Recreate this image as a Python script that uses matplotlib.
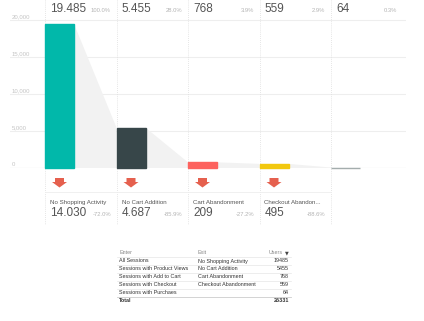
import matplotlib
matplotlib.use("Agg")
import matplotlib.pyplot as plt
from matplotlib.transforms import blended_transform_factory, offset_copy
from matplotlib.patches import Polygon

# data
stages = ["All Sessions", "Sessions with Product...", "Sessions with Add to...",
          "Sessions with Check...", "Sessions with Purch..."]
users = [19485, 5455, 768, 559, 64]
top_pct = ["100.0%", "28.0%", "3.9%", "2.9%", "0.3%"]
exits = ["No Shopping Activity", "No Cart Addition", "Cart Abandonment", "Checkout Abandon..."]
exit_users = [14030, 4687, 209, 495]
exit_pct = ["-72.0%", "-85.9%", "-27.2%", "-88.6%"]
yticks = [0, 5000, 10000, 15000, 20000]
colors = ["#01b8aa", "#374649", "#fd625e", "#f2c80f", "#a4adad"]

# table under the chart
tab_enter = ["All Sessions", "Sessions with Product Views", "Sessions with Add to Cart",
             "Sessions with Checkout", "Sessions with Purchaes"]
tab_exit = ["No Shopping Activity", "No Cart Addition", "Cart Abandonment",
            "Checkout Abandonment", ""]
tab_users = [19485, 5455, 768, 559, 64]
tab_total = 26331

plt.rcParams['font.family'] = ['Liberation Sans', 'DejaVu Sans']

W, H = 424, 321
CW = 71.5  # column width in px
fig = plt.figure(figsize=(W / 100, H / 100), dpi=100)

def fy(p):
    return 1 - p / H

ax = fig.add_axes([10 / W, fy(168), 396 / W, 168 / H])
ax.set_xlim(-35 / CW, 361 / CW)
ax.set_ylim(0, 168 / 37 * 5000)
for s in ax.spines.values():
    s.set_visible(False)
ax.set_xticks([])
ax.set_yticks(yticks)
ax.set_yticklabels([])
ax.tick_params(left=False)
ax.yaxis.grid(True, color="#eeeeee", lw=0.8)
ax.set_axisbelow(True)
ax.axhline(0, color="#e2e2e2", lw=0.8, zorder=1)

lab_tr = offset_copy(ax.transData, fig=fig, y=3.5, units='dots')
for v in yticks:
    ax.text(-33 / CW, v, f"{v:,}", transform=lab_tr, fontsize=4.3, color="#c4c4c4",
            ha="left", va="center")

bw = 29 / CW
xs = list(range(len(users)))
ax.bar(xs, users, width=bw, align="edge", color=colors, edgecolor=colors,
       linewidth=1.0, zorder=3, clip_on=False)

# funnel shading between bars
for i in range(len(users) - 1):
    poly = Polygon([(i + bw, users[i]), (i + 1, users[i + 1]), (i + 1, 0), (i + bw, 0)],
                   closed=True, facecolor="#f2f2f2", edgecolor="none", zorder=2)
    ax.add_patch(poly)

tr = blended_transform_factory(ax.transData, fig.transFigure)

# column separators
for i in xs:
    ax.plot([i, i], [1, fy(225)], transform=tr, clip_on=False, ls=(0, (1, 1.5)),
            color="#dddddd", lw=0.6)
ax.plot([0, 4], [fy(192), fy(192)], transform=tr, clip_on=False, color="#eeeeee", lw=0.6)

# top row: stage header (cut by the top edge), value and share
for i in xs:
    ax.text(i + 5 / CW, fy(-2.5), stages[i], transform=tr, fontsize=4.4, color="#999999",
            ha="left", va="center", clip_on=False)
    ax.text(i + 5 / CW, fy(8.5), f"{users[i]:,}".replace(",", "."), transform=tr,
            fontsize=8.5, color="#555555", ha="left", va="center")
    ax.text(i + 66 / CW, fy(10), top_pct[i], transform=tr, fontsize=4.2,
            color="#b4b4b4", ha="right", va="center")

# exit boxes
for i in range(len(exits)):
    c = i + 0.5 * bw
    ax.add_patch(Polygon([(c - 4.5 / CW, fy(178)), (c + 4.5 / CW, fy(178)),
                          (c + 4.5 / CW, fy(182)), (c + 7.5 / CW, fy(182)),
                          (c, fy(187.5)), (c - 7.5 / CW, fy(182)),
                          (c - 4.5 / CW, fy(182))],
                         closed=True, transform=tr, facecolor="#e5604e",
                         edgecolor="none", clip_on=False))
    ax.text(i + 5 / CW, fy(202.5), exits[i], transform=tr, fontsize=4.4,
            color="#555555", ha="left", va="center")
    ax.text(i + 5 / CW, fy(213.5), f"{exit_users[i]:,}".replace(",", "."),
            transform=tr, fontsize=8.5, color="#555555", ha="left", va="center")
    ax.text(i + 66 / CW, fy(215), exit_pct[i], transform=tr, fontsize=4.2,
            color="#b4b4b4", ha="right", va="center")

# table
tx0, tx1, tx2, tx3 = 119, 198, 289, 117
fs = 3.9
fig.text(tx0 / W, fy(253), "Enter", fontsize=fs, color="#888888", va="center")
fig.text(tx1 / W, fy(253), "Exit", fontsize=fs, color="#888888", va="center")
fig.text((tx2 - 6) / W, fy(253), "Users", fontsize=fs, color="#888888", va="center",
         ha="right")
fig.text(tx2 / W, fy(253), "\u25bc", fontsize=3.5, color="#444444", va="center",
         ha="right", family="DejaVu Sans")
for r in range(len(tab_enter)):
    yy = 261 + 8 * r
    fig.text(tx0 / W, fy(yy), tab_enter[r], fontsize=fs, color="#333333", va="center")
    fig.text(tx1 / W, fy(yy), tab_exit[r], fontsize=fs, color="#333333", va="center")
    fig.text(tx2 / W, fy(yy), str(tab_users[r]), fontsize=fs, color="#333333",
             va="center", ha="right")
    fig.add_artist(plt.Line2D([tx3 / W, 291 / W], [fy(yy - 4), fy(yy - 4)],
                              color="#e6e6e6", lw=0.5))
fig.add_artist(plt.Line2D([tx3 / W, 291 / W], [fy(297), fy(297)], color="#cccccc", lw=0.6))
fig.text(tx0 / W, fy(301), "Total", fontsize=fs, color="#333333", va="center",
         fontweight="bold")
fig.text(tx2 / W, fy(301), str(tab_total), fontsize=fs, color="#333333", va="center",
         ha="right", fontweight="bold")

fig.savefig("out.png", dpi=100)
